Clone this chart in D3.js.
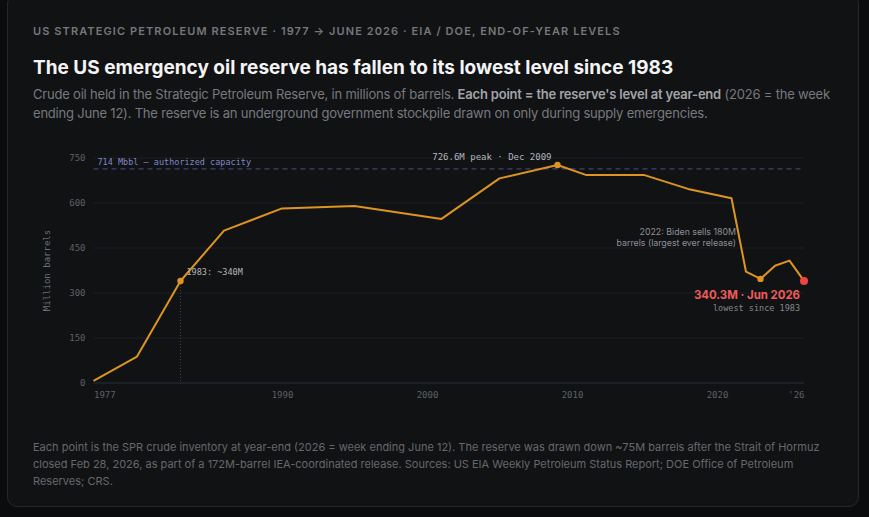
<!DOCTYPE html>
<html lang="en">
<head>
<meta charset="UTF-8">
<title>US Strategic Petroleum Reserve</title>
<script src="https://cdn.jsdelivr.net/npm/d3@7/dist/d3.min.js"></script>
<style>
  * { margin: 0; padding: 0; box-sizing: border-box; }
  body {
    width: 869px; height: 517px; overflow: hidden;
    background: #0b0c0e;
    font-family: Inter, 'Noto Sans', sans-serif;
    position: relative;
  }
  #card {
    position: absolute; left: 7px; top: -6px; width: 852px; height: 513px;
    background: #111214; border: 1px solid #26282c; border-radius: 10px;
  }
  .txt { position: absolute; left: 33px; }
  #kicker {
    top: 24px; font-size: 11px; line-height: 14px; font-weight: 600;
    letter-spacing: 1.1px; color: #75777c; text-transform: uppercase;
  }
  #title { top: 56px; font-size: 19px; line-height: 24px; font-weight: 700; color: #f4f4f5; }
  #desc { top: 85px; width: 802px; font-size: 13px; line-height: 19px; color: #77797e; letter-spacing: -0.2px; }
  #desc b { color: #a2a4a9; font-weight: 600; }
  #foot { top: 439px; width: 800px; font-size: 11px; line-height: 17px; color: #66686d; }
  #chart { position: absolute; left: 0; top: 0; }
  .mono { font-family: 'DejaVu Sans Mono', monospace; }
</style>
</head>
<body>
<div id="card"></div>
<div class="txt" id="kicker">US Strategic Petroleum Reserve · 1977 → June 2026 · EIA / DOE, end-of-year levels</div>
<div class="txt" id="title">The US emergency oil reserve has fallen to its lowest level since 1983</div>
<div class="txt" id="desc">Crude oil held in the Strategic Petroleum Reserve, in millions of barrels. <b>Each point = the reserve's level at year-end</b> (2026 = the week ending June 12). The reserve is an underground government stockpile drawn on only during supply emergencies.</div>
<div class="txt" id="foot">Each point is the SPR crude inventory at year-end (2026 = week ending June 12). The reserve was drawn down ~75M barrels after the Strait of Hormuz closed Feb 28, 2026, as part of a 172M-barrel IEA-coordinated release. Sources: US EIA Weekly Petroleum Status Report; DOE Office of Petroleum Reserves; CRS.</div>
<svg id="chart" width="869" height="517"></svg>
<script>
  // SPR level at year-end, million barrels
  const years = [1977, 1980, 1983, 1986, 1990, 1995, 2001, 2005, 2009, 2011, 2015, 2018, 2021, 2022, 2023, 2024, 2025, 2026];
  const levels = [7, 88, 340, 508, 582, 590, 547, 682, 726.6, 693, 693, 647, 616, 371, 347, 391, 408, 340.3];
  const yTicks = [0, 150, 300, 450, 600, 750];
  const xTicks = [1977, 1990, 2000, 2010, 2020, 2026];
  const xTickLabels = ['1977', '1990', '2000', '2010', '2020', "'26"];
  const capacity = 714;
  const markedYears = [1983, 2009, 2023];

  const data = years.map((y, i) => ({ year: y, value: levels[i] }));

  const svg = d3.select('#chart');
  const x = d3.scaleLinear().domain([1977, 2026]).range([93.5, 804]);
  const y = d3.scaleLinear().domain([0, 750]).range([383, 158]);

  // gridlines
  svg.append('g')
    .selectAll('line')
    .data(yTicks.filter(d => d > 0))
    .join('line')
    .attr('x1', x(1977)).attr('x2', x(2026))
    .attr('y1', d => y(d)).attr('y2', d => y(d))
    .attr('stroke', '#1d1f23').attr('stroke-width', 1);

  // baseline
  svg.append('line')
    .attr('x1', x(1977)).attr('x2', x(2026))
    .attr('y1', y(0)).attr('y2', y(0))
    .attr('stroke', '#2c2e3a').attr('stroke-width', 1);

  // y axis labels
  const yAxis = svg.append('g')
    .attr('transform', `translate(${x(1977) - 4},0)`)
    .call(d3.axisLeft(y).tickValues(yTicks).tickSize(0).tickPadding(4));
  yAxis.select('.domain').remove();
  yAxis.selectAll('text')
    .attr('class', 'mono').attr('font-size', 9).attr('fill', '#5d6066');

  // x axis labels
  const xAxis = svg.append('g')
    .attr('transform', `translate(0,${y(0)})`)
    .call(d3.axisBottom(x).tickValues(xTicks).tickSize(0).tickPadding(9)
      .tickFormat((d, i) => xTickLabels[i]));
  xAxis.select('.domain').remove();
  xAxis.selectAll('text')
    .attr('class', 'mono').attr('font-size', 9).attr('fill', '#5d6066')
    .attr('text-anchor', (d, i) => i === 0 ? 'start' : (i === xTicks.length - 1 ? 'end' : 'middle'));

  svg.append('text')
    .attr('class', 'mono')
    .attr('transform', `translate(50,${y(375)}) rotate(-90)`)
    .attr('text-anchor', 'middle')
    .attr('font-size', 9).attr('fill', '#6c6f75')
    .text('Million barrels');

  // authorized capacity
  svg.append('line')
    .attr('x1', x(1977)).attr('x2', x(2026))
    .attr('y1', y(capacity)).attr('y2', y(capacity))
    .attr('stroke', '#3d4276').attr('stroke-width', 1.2)
    .attr('stroke-dasharray', '5,4');
  svg.append('text')
    .attr('class', 'mono')
    .attr('x', x(1977) + 4).attr('y', y(capacity) - 4)
    .attr('font-size', 8.5).attr('fill', '#7f86c4')
    .text('714 Mbbl — authorized capacity');

  // 1983 drop line
  svg.append('line')
    .attr('x1', x(1983)).attr('x2', x(1983))
    .attr('y1', y(340)).attr('y2', y(0))
    .attr('stroke', '#3e4046').attr('stroke-width', 1)
    .attr('stroke-dasharray', '1,2');

  // series
  const line = d3.line().x(d => x(d.year)).y(d => y(d.value));
  svg.append('path')
    .datum(data)
    .attr('d', line)
    .attr('fill', 'none')
    .attr('stroke', '#de9420')
    .attr('stroke-width', 2)
    .attr('stroke-linejoin', 'round');

  svg.append('g')
    .selectAll('circle')
    .data(data.filter(d => markedYears.includes(d.year)))
    .join('circle')
    .attr('cx', d => x(d.year)).attr('cy', d => y(d.value))
    .attr('r', 3.2).attr('fill', '#de9420');

  const last = data[data.length - 1];
  svg.append('circle')
    .attr('cx', x(last.year)).attr('cy', y(last.value))
    .attr('r', 4).attr('fill', '#ef4444');

  // annotations
  svg.append('text')
    .attr('class', 'mono')
    .attr('x', x(1983) + 6).attr('y', y(340) - 6)
    .attr('font-size', 8.5).attr('fill', '#b4b6bb')
    .text('1983: ~340M');

  svg.append('text')
    .attr('class', 'mono')
    .attr('x', x(2009) - 6).attr('y', y(726.6) - 5)
    .attr('text-anchor', 'end')
    .attr('font-size', 9).attr('fill', '#b4b6bb')
    .text('726.6M peak · Dec 2009');

  const biden = svg.append('text')
    .attr('x', x(2021) + 4.5).attr('y', 235)
    .attr('text-anchor', 'end')
    .attr('font-size', 8.8).attr('fill', '#8e9096');
  biden.append('tspan').attr('x', x(2021) + 4.5).attr('dy', 0).text('2022: Biden sells 180M');
  biden.append('tspan').attr('x', x(2021) + 4.5).attr('dy', 11).text('barrels (largest ever release)');

  svg.append('text')
    .attr('x', x(2026) - 4).attr('y', y(last.value) + 18.5)
    .attr('text-anchor', 'end')
    .attr('font-size', 11.4).attr('font-weight', 700).attr('fill', '#ef5a5a')
    .text('340.3M · Jun 2026');
  svg.append('text')
    .attr('class', 'mono')
    .attr('x', x(2026) - 4).attr('y', y(last.value) + 30)
    .attr('text-anchor', 'end')
    .attr('font-size', 8.5).attr('fill', '#85878d')
    .text('lowest since 1983');
</script>
</body>
</html>
